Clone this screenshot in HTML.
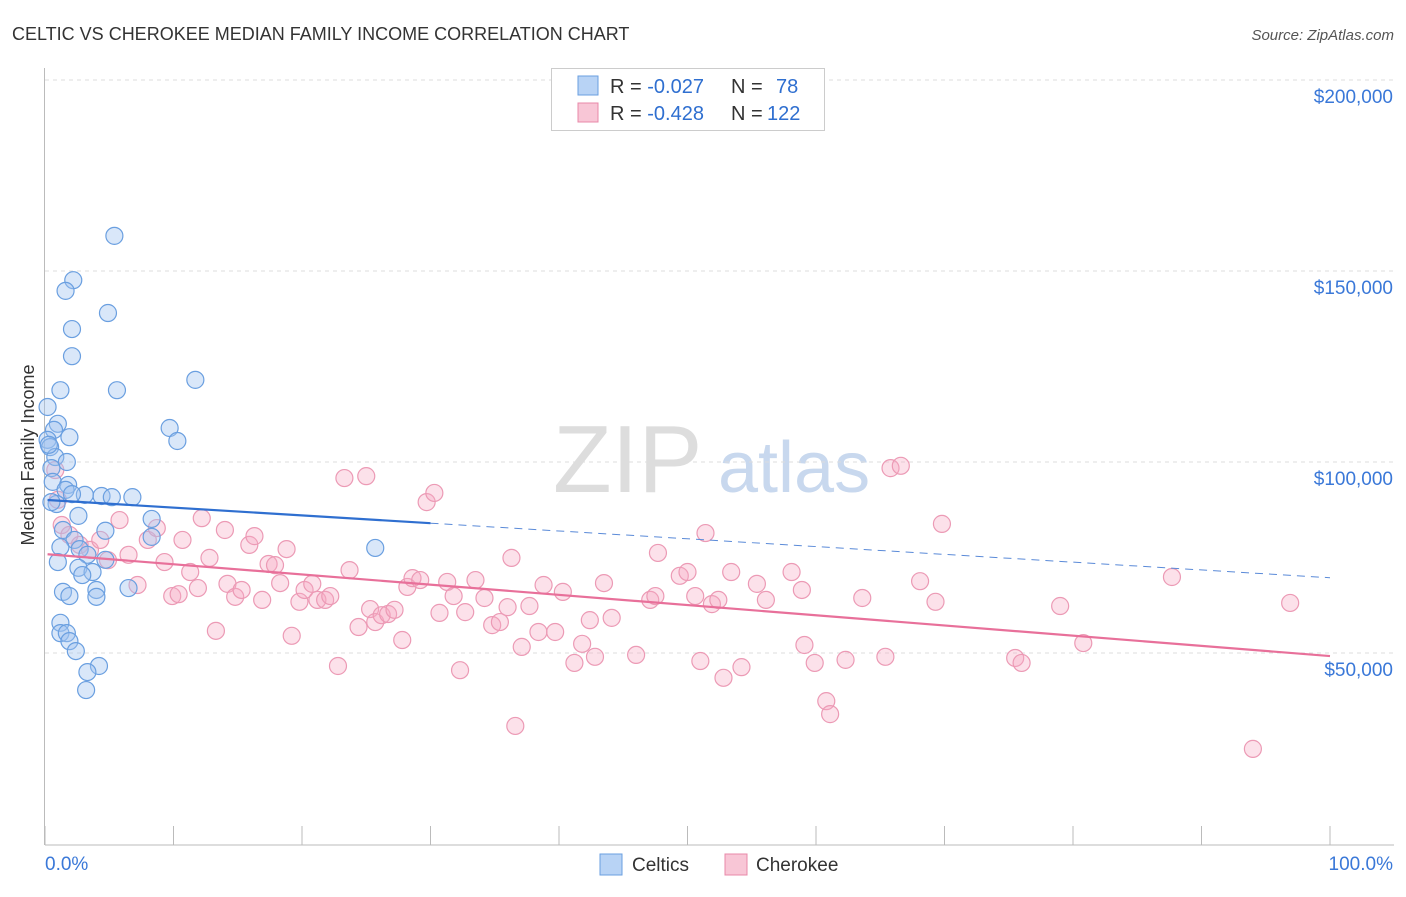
<!DOCTYPE html>
<html><head><meta charset="utf-8">
<style>
body{margin:0;background:#fff;font-family:"Liberation Sans",sans-serif;}
svg text{font-family:"Liberation Sans",sans-serif;}
</style></head>
<body>
<svg width="1406" height="892" xmlns="http://www.w3.org/2000/svg">
<text x="12" y="40" font-size="18" fill="#333">CELTIC VS CHEROKEE MEDIAN FAMILY INCOME CORRELATION CHART</text>
<text x="1394" y="40" font-size="15" fill="#555" font-style="italic" text-anchor="end">Source: ZipAtlas.com</text>
<g>
<text x="553" y="492" font-size="96" fill="#ddd" font-family="Liberation Serif">ZIP</text>
<text x="718" y="492" font-size="72" fill="#c8d8ee">atlas</text>
</g>
<g id="grid"></g>
<g id="axes"></g>
<g id="marks"></g>
<text transform="translate(34,455) rotate(-90)" font-size="18" fill="#333" text-anchor="middle">Median Family Income</text>
<g>
<rect x="551.5" y="68.5" width="273" height="62" fill="#fff" stroke="#ccc"/>
<rect x="578" y="76" width="20" height="19" fill="#b8d3f5" stroke="#6a9fe0"/>
<rect x="578" y="103" width="20" height="19" fill="#f8c6d6" stroke="#e888a8"/>
<text x="610" y="93" font-size="20" fill="#333">R = <tspan fill="#2f6fd0">-0.027</tspan></text>
<text x="731" y="93" font-size="20" fill="#333">N = <tspan fill="#2f6fd0" x="776">78</tspan></text>
<text x="610" y="120" font-size="20" fill="#333">R = <tspan fill="#2f6fd0">-0.428</tspan></text>
<text x="731" y="120" font-size="20" fill="#333">N = <tspan fill="#2f6fd0" x="767">122</tspan></text>
</g>
<g>
<rect x="600" y="854" width="22" height="21" fill="#b8d3f5" stroke="#6a9fe0"/>
<text x="632" y="871" font-size="19" fill="#333">Celtics</text>
<rect x="725" y="854" width="22" height="21" fill="#f8c6d6" stroke="#e888a8"/>
<text x="756" y="871" font-size="19" fill="#333">Cherokee</text>
</g>
</svg>
<script>
const yTicks=[50000,100000,150000,200000];
const yTickLabels=["$50,000","$100,000","$150,000","$200,000"];
const xTickPct=[0,10,20,30,40,50,60,70,80,90,100];
const celticsX=[5.4,2.2,1.6,4.9,2.1,2.1,11.7,5.6,1.2,0.2,1.0,9.7,0.7,10.3,1.9,0.2,0.4,0.8,1.7,0.5,0.6,1.8,1.6,3.1,4.4,5.2,6.8,0.9,2.1,2.6,8.3,1.4,4.7,8.3,2.3,1.2,2.7,25.7,3.3,4.7,1.0,2.6,3.7,2.9,6.5,4.0,1.4,1.9,4.0,1.2,1.2,1.7,1.9,2.4,4.2,3.3,3.2,0.3,0.5];
const celticsY=[159.2,147.6,144.8,139,134.8,127.7,121.5,118.8,118.8,114.4,110,108.9,108.4,105.5,106.5,105.8,103.9,101.3,100,98.4,94.8,94,92.7,91.4,91.1,90.8,90.8,89,91.6,85.9,85.1,82.2,82,80.4,79.6,77.7,77.2,77.5,75.7,74.4,73.8,72.3,71.2,70.4,67,66.5,66,64.9,64.7,57.9,55.2,55.2,53.1,50.5,46.6,45,40.3,104.5,89.5];
const cherokeeX=[0.8,1.0,1.3,1.9,2.7,3.5,4.3,4.9,5.8,6.5,7.2,8.0,8.7,9.3,9.9,10.4,10.7,11.3,11.9,12.2,12.8,13.3,14.0,14.2,14.8,15.3,15.9,16.3,16.9,17.4,17.9,18.3,18.8,19.2,19.8,20.2,20.8,21.2,21.8,22.2,22.8,23.3,23.7,24.4,25.0,25.3,25.7,26.2,26.7,27.2,27.8,28.2,28.6,29.2,29.7,30.3,30.7,31.3,31.8,32.3,32.7,33.5,34.2,34.8,35.4,36.0,36.3,36.6,37.1,37.7,38.4,38.8,39.7,40.3,41.2,41.8,42.4,42.8,43.5,44.1,46.0,47.1,47.5,47.7,49.4,50.0,50.6,51.0,51.4,51.9,52.4,52.8,53.4,54.2,55.4,56.1,58.1,58.9,59.1,59.9,60.8,61.1,62.3,63.6,65.4,65.8,66.6,68.1,69.3,69.8,75.5,76.0,79.0,80.8,87.7,94.0,96.9];
const cherokeeY=[97.9,90.1,83.5,80.9,78.3,77.0,79.6,74.3,84.8,75.7,67.8,79.6,82.7,73.8,64.9,65.4,79.6,71.2,67.0,85.3,74.9,55.8,82.2,68.1,64.7,66.5,78.3,80.6,63.9,73.3,73.0,68.3,77.2,54.5,63.4,66.5,68.1,63.9,63.9,64.9,46.6,95.8,71.7,56.8,96.3,61.5,58.1,59.9,60.2,61.3,53.4,67.3,69.6,69.1,89.5,91.9,60.5,68.6,64.9,45.5,60.7,69.1,64.4,57.3,58.1,62.0,74.9,30.9,51.6,62.3,55.5,67.8,55.5,66.0,47.4,52.4,58.6,49.0,68.3,59.2,49.5,63.9,64.9,76.2,70.2,71.2,64.9,47.9,81.4,62.8,63.9,43.5,71.2,46.3,68.1,63.9,71.2,66.5,52.1,47.4,37.4,34.0,48.2,64.4,49.0,98.4,99.0,68.8,63.4,83.8,48.7,47.4,62.3,52.6,69.9,24.9,63.1];
const celticsTrend=[90.1,-0.204];
const cherokeeTrend=[75.9,-0.267];
const NS="http://www.w3.org/2000/svg";
const X=p=>45+p*12.85;
const Y=k=>462-(k-100)*3.82;
function mk(t,a,p){const e=document.createElementNS(NS,t);for(const k in a)e.setAttribute(k,a[k]);p.appendChild(e);return e;}
const grid=document.getElementById('grid'),axes=document.getElementById('axes'),marks=document.getElementById('marks');
yTicks.forEach((v,i)=>{
 const y=Y(v/1000);
 const l=mk('line',{x1:45,x2:1394,y1:y,y2:y,stroke:'#ddd','stroke-dasharray':'4,4'},grid);
 
 
 const t=mk('text',{x:1393,y:y+23,'font-size':19,fill:'#3a78d8','text-anchor':'end'},axes);
 t.textContent=yTickLabels[i];
 
 
});
const ax=mk('line',{x1:45,x2:1394,y1:845,y2:845,stroke:'#bbb'},axes);


const ay=mk('line',{x1:44.5,x2:44.5,y1:68,y2:845,stroke:'#bbb'},axes);


xTickPct.forEach(p=>{
 const t=mk('line',{x1:X(p),x2:X(p),y1:826,y2:845,stroke:'#bbb'},axes);
 
 
});
const xl0=mk('text',{x:45,y:870,'font-size':19,fill:'#3a78d8'},axes);xl0.textContent='0.0%';


const xl1=mk('text',{x:1393,y:870,'font-size':19,fill:'#3a78d8','text-anchor':'end'},axes);xl1.textContent='100.0%';


cherokeeX.forEach((x,i)=>{
 const c=mk('circle',{cx:X(x),cy:Y(cherokeeY[i]),r:8.5,fill:'rgba(245,170,195,0.35)',stroke:'#ec9ab5','stroke-width':1.2},marks);
 
 
});
celticsX.forEach((x,i)=>{
 const c=mk('circle',{cx:X(x),cy:Y(celticsY[i]),r:8.5,fill:'rgba(160,195,240,0.4)',stroke:'#6a9fe0','stroke-width':1.2},marks);
 
 
});
const tb=p=>celticsTrend[0]+celticsTrend[1]*p, tp=p=>cherokeeTrend[0]+cherokeeTrend[1]*p;
const l1=mk('line',{x1:X(0.2),y1:Y(tb(0.2)),x2:X(30),y2:Y(tb(30)),stroke:'#2f6fd0','stroke-width':2.2},marks);


const l2=mk('line',{x1:X(30),y1:Y(tb(30)),x2:X(100),y2:Y(tb(100)),stroke:'#5a8ad8','stroke-width':1,'stroke-dasharray':'8,6'},marks);


const l3=mk('line',{x1:X(0.2),y1:Y(tp(0.2)),x2:X(100),y2:Y(tp(100)),stroke:'#e8709a','stroke-width':2.2},marks);


</script>
</body></html>
